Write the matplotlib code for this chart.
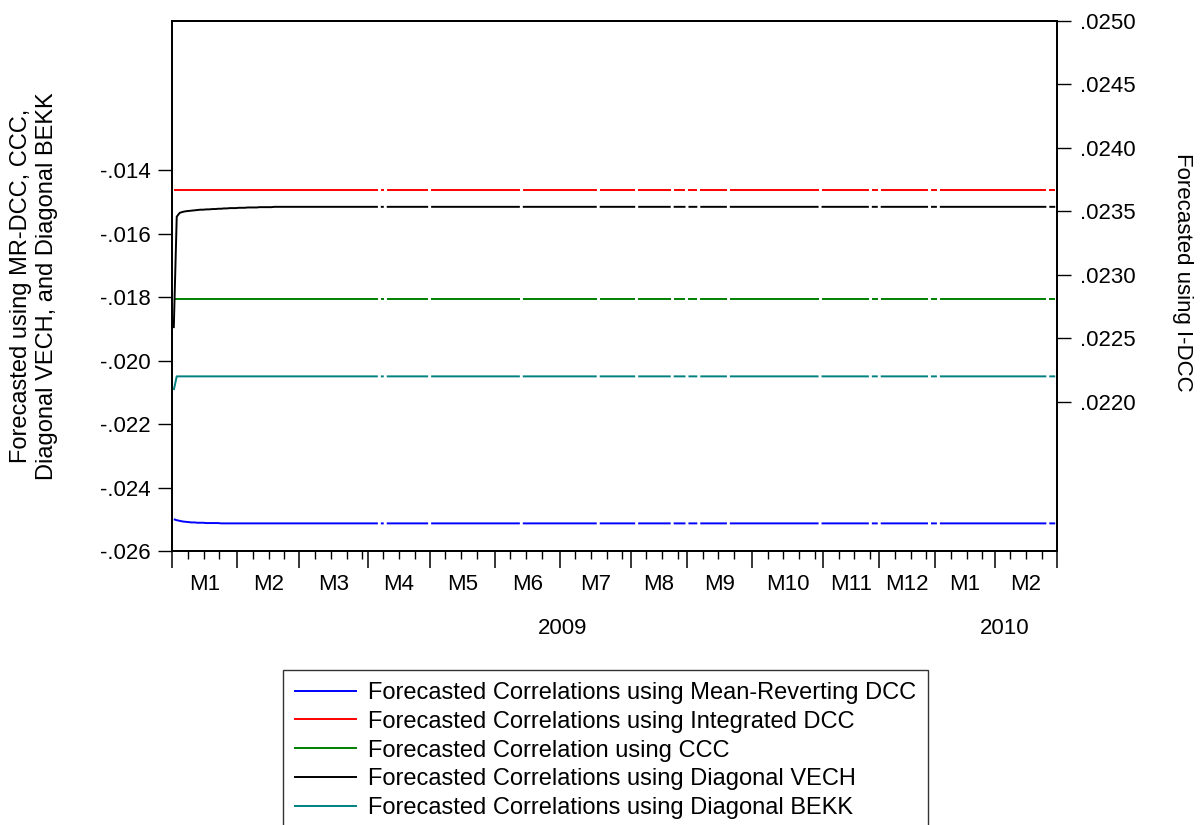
import numpy as np
import matplotlib
matplotlib.use("Agg")
import matplotlib.pyplot as plt
from matplotlib.ticker import FuncFormatter, FixedLocator
from matplotlib.lines import Line2D

plt.rcParams['font.family'] = ['Liberation Sans', 'DejaVu Sans']

month_labels = ["M1", "M2", "M3", "M4", "M5", "M6", "M7", "M8", "M9", "M10",
                "M11", "M12", "M1", "M2"]
month_obs = [22, 21, 23, 21, 22, 22, 24, 19, 22, 24, 19, 19, 20, 21]
years = ["2009", "2010"]
year_months = [12, 2]

# line breaks (missing obs) - break after these obs indices
breaks = [69, 71, 86, 117, 143, 156, 168, 173, 177, 187, 218, 235, 238, 255, 258, 295]

# series: start of forecast, then flat level
mr_dcc_start = [-0.02500, -0.02503, -0.02505, -0.02507, -0.02508, -0.02509,
                -0.02510, -0.02510, -0.02511, -0.02511, -0.02511, -0.02512,
                -0.02512, -0.02512, -0.02512, -0.02512]
mr_dcc_level = -0.02513

i_dcc_start = [0.02367]
i_dcc_level = 0.02367

ccc_start = [-0.01807]
ccc_level = -0.01807

vech_start = [-0.01898, -0.01547, -0.01535, -0.01532, -0.01530, -0.01529,
              -0.01528, -0.01527, -0.01526, -0.01525, -0.01525, -0.01524,
              -0.01524, -0.01523, -0.01523, -0.01522, -0.01522, -0.01521,
              -0.01521, -0.01520, -0.01520, -0.01520, -0.01519, -0.01519,
              -0.01519, -0.01518, -0.01518, -0.01518, -0.01518, -0.01517,
              -0.01517, -0.01517, -0.01517, -0.01517]
vech_level = -0.01516

bekk_start = [-0.02093, -0.02050]
bekk_level = -0.02050

labels = ["Forecasted Correlations using Mean-Reverting DCC",
          "Forecasted Correlations using Integrated DCC",
          "Forecasted Correlation using CCC",
          "Forecasted Correlations using Diagonal VECH",
          "Forecasted Correlations using Diagonal BEKK"]
colors = ["#0000FF", "#FF0000", "#008000", "#000000", "#008080"]

n_obs = sum(month_obs)


def build(start, level):
    return np.r_[np.array(start, float), np.full(n_obs - len(start), level)]


def with_breaks(y):
    x = np.arange(n_obs, dtype=float)
    xs, ys = list(x), list(y)
    for b in sorted(breaks, reverse=True):
        xs.insert(b + 1, b + 0.5)
        ys.insert(b + 1, np.nan)
    return np.array(xs), np.array(ys)


W, H = 1203, 825
fig = plt.figure(figsize=(W / 100, H / 100), dpi=100)
ax = fig.add_axes([172.3 / W, 1 - 551 / H, (1056.7 - 172.3) / W, (551 - 21) / H])
ax2 = ax.twinx()

series = [build(mr_dcc_start, mr_dcc_level), build(i_dcc_start, i_dcc_level),
          build(ccc_start, ccc_level), build(vech_start, vech_level),
          build(bekk_start, bekk_level)]
for k, (y, c) in enumerate(zip(series, colors)):
    xs, ys = with_breaks(y)
    target = ax2 if k == 1 else ax
    target.plot(xs, ys, color=c, lw=1.4, solid_capstyle="butt")

ax.set_xlim(-0.5, n_obs - 0.5)
ax.set_ylim(-0.026, -0.026 + (551 - 21) / 63.5 * 0.002)
ax2.set_ylim(0.0250 - (551 - 21) / 63.45 * 0.0005, 0.0250)

ax.yaxis.set_major_locator(FixedLocator(np.arange(-0.026, -0.0139, 0.002)))
ax2.yaxis.set_major_locator(FixedLocator(np.arange(0.0220, 0.02501, 0.0005)))
ax.yaxis.set_major_formatter(FuncFormatter(lambda v, p: f"{v:.3f}".replace("0.", ".")))
ax2.yaxis.set_major_formatter(FuncFormatter(lambda v, p: f"{v:.4f}".replace("0.", ".")))

# month boundary ticks (long) and weekly ticks (short)
bounds = np.cumsum([0] + month_obs) - 0.5
minor = []
for s, n in zip(bounds[:-1], month_obs):
    k = 1
    while k * 5.3 < n - 1.5:
        minor.append(s + k * 5.3)
        k += 1
ax.set_xticks(bounds)
ax.set_xticks(minor, minor=True)
ax.set_xticklabels([])
ax.tick_params(axis="x", which="major", length=12, width=1.1, direction="out")
ax.tick_params(axis="x", which="minor", length=6, width=1.0, direction="out")
ax.tick_params(axis="y", length=10, width=1.0, labelsize=16, pad=5.5)
ax2.tick_params(axis="y", length=10, width=1.0, labelsize=16, pad=6.5)
for a in (ax, ax2):
    for sp in a.spines.values():
        sp.set_linewidth(1.3)

trans = ax.get_xaxis_transform()
axh = 551 - 21
for s, n, lab in zip(bounds[:-1], month_obs, month_labels):
    ax.text(s + n / 2, -33 / axh, lab, transform=trans, ha="center", va="center",
            fontsize=16)
start = 0
for yr, nm in zip(years, year_months):
    end = start + nm
    xc = (bounds[start] + bounds[end]) / 2
    ax.text(xc + 3, -78 / axh, yr, transform=trans, ha="center", va="center", fontsize=16)
    start = end

fig.text(34 / W, 1 - 286 / H, "Forecasted using MR-DCC, CCC,\nDiagonal VECH, and Diagonal BEKK",
         rotation=90, ha="center", va="center", fontsize=17, linespacing=1.2)
fig.text(1182 / W, 1 - 272 / H, "Forecasted using I-DCC", rotation=270,
         ha="center", va="center", fontsize=16)

handles = [Line2D([], [], color=c, lw=1.4) for c in colors]
leg = fig.legend(handles, labels, loc="upper left",
                 bbox_to_anchor=(283 / W, 1 - 670 / H), frameon=True, fancybox=False,
                 edgecolor="black", fontsize=17, handlelength=2.6, handletextpad=0.5,
                 labelspacing=0.29, borderpad=0.5, borderaxespad=0)
leg.get_frame().set_linewidth(1.0)

fig.savefig("out.png", dpi=100)
